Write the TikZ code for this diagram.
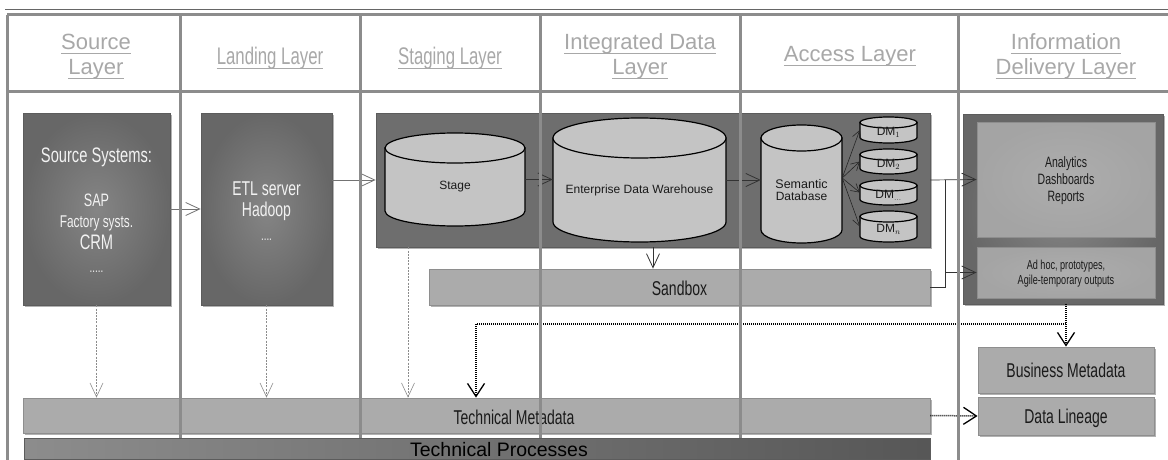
\documentclass[tikz,border=0pt]{standalone}
\usepackage{fontspec}
\setmainfont{Liberation Sans}
\newfontfamily\condfont[FakeStretch=0.7]{Liberation Sans}
\usetikzlibrary{arrows.meta,shadows}

\definecolor{sepgray}{HTML}{8C8C8C}
\definecolor{hdrgray}{HTML}{A8A8A8}
\definecolor{boxedge}{HTML}{5C5C5C}
\definecolor{boxdark}{HTML}{676767}
\definecolor{boxmid}{HTML}{858585}
\definecolor{grpfill}{HTML}{6E6E6E}
\definecolor{barfill}{HTML}{ABABAB}
\definecolor{baredge}{HTML}{8E8E8E}
\definecolor{innerfill}{HTML}{A4A4A4}
\definecolor{innerlit}{HTML}{ADADAD}
\definecolor{cylfill}{HTML}{C4C4C4}
\definecolor{wtext}{HTML}{F2F2F2}
\definecolor{dtext}{HTML}{1A1A1A}

\newcommand\fsz[1]{\fontsize{#1}{#1}\selectfont}
% underlined header word
\newcommand\hdul[1]{\setbox0\hbox{#1}\rlap{\raisebox{-4pt}{\rule{\wd0}{1.2pt}}}\box0}

% database cylinder: name, left x, right x, top y, bottom y, ellipse radius, label
\newcommand\dbcyl[7]{%
  \pgfmathsetmacro\cylcx{(#2+#3)/2}%
  \pgfmathsetmacro\cylrx{(#3-#2)/2}%
  \pgfmathsetmacro\cylyt{#4+#6}%
  \pgfmathsetmacro\cylyb{#5-#6}%
  \pgfmathsetmacro\cylw{#3-#2}%
  \pgfmathsetmacro\cylh{#5-#4}%
  \pgfmathsetmacro\cylcy{(#4+#5)/2}%
  \node[cylbox, minimum width=\cylw pt, minimum height=\cylh pt] (#1) at (\cylcx,\cylcy) {};
  \filldraw[cylbody] (#2,\cylyt) -- (#2,\cylyb)
     arc[start angle=180, end angle=0, x radius=\cylrx, y radius=#6] -- (#3,\cylyt) -- cycle;
  \filldraw[cylbody] (\cylcx,\cylyt) ellipse[x radius=\cylrx, y radius=#6];
  \node[cyltext] (#1-txt) at (\cylcx,\cylcy+#6/2) {#7};
}

\begin{document}
\begin{tikzpicture}[x=1pt, y=-1pt,
  boxsz/.style 2 args={minimum width=#1pt, minimum height=#2pt, inner sep=0pt},
  hdr/.style={text=hdrgray, anchor=base, font=\fsz{22}},
  hdrc/.style={text=hdrgray, anchor=base, font=\condfont\fsz{24}},
  softshadow/.style={drop shadow={shadow xshift=1.5pt, shadow yshift=-1.5pt, opacity=0.3, fill=black}},
  darkbox/.style={draw=boxedge, line width=0.8pt, inner color=boxmid, outer color=boxdark, softshadow},
  groupbox/.style={draw=boxedge, line width=0.8pt, fill=grpfill, softshadow},
  innerbox/.style={draw=baredge, line width=0.8pt, inner color=innerlit, outer color=innerfill},
  lightbar/.style={draw=baredge, line width=0.8pt, fill=barfill, softshadow},
  procbar/.style={draw=boxedge, line width=0.6pt, left color=black!45, middle color=black!62, right color=black!66},
  cylbox/.style={inner sep=0pt},
  cylbody/.style={draw=black, line width=1.2pt, fill=cylfill},
  cyltext/.style={text=dtext, font=\fsz{12}, align=center},
  darktxt/.style={text=wtext, anchor=base, font=\condfont},
  lighttxt/.style={text=dtext, anchor=base, font=\condfont},
  vtip/.style={-{Straight Barb[length=14pt,width=13pt,line width=0.8pt]}},
  conn/.style={draw=black!55, line width=0.7pt, vtip},
  conndk/.style={draw=black!80, line width=0.7pt, vtip},
  fan/.style={draw=black!85, line width=0.6pt, -{Straight Barb[length=8pt,width=9pt,line width=0.6pt]}},
  dropline/.style={draw=black!45, line width=0.6pt, dash pattern=on 2pt off 1.2pt, -{Straight Barb[length=14pt,width=13pt,line width=0.6pt]}},
  dotline/.style={draw=black, line width=1.5pt, dash pattern=on 1pt off 1pt, -{Straight Barb[length=13pt,width=17pt,line width=1.3pt]}},
  sep/.style={draw=sepgray, line width=3pt}]

\useasboundingbox (0,0) rectangle (1168,460);
\fill[white] (0,0) rectangle (1168,460);

% thin rule above the frame
\draw[draw=black!60, line width=1pt] (5,10) -- (1168,10);

% ---- header titles ----
\node[hdr] (h1a) at (96,50) {\hdul{Source}};
\node[hdr] (h1b) at (96,75) {\hdul{Layer}};
\node[hdrc] (h2) at (270,65) {\hdul{Landing Layer}};
\node[hdrc] (h3) at (450,65) {\hdul{Staging Layer}};
\node[hdr] (h4a) at (640,50) {\hdul{Integrated Data}};
\node[hdr] (h4b) at (640,75) {\hdul{Layer}};
\node[hdr] (h5) at (850,62) {\hdul{Access Layer}};
\node[hdr] (h6a) at (1066,50) {\hdul{Information}};
\node[hdr] (h6b) at (1066,75) {\hdul{Delivery Layer}};

% ---- source and landing systems ----
\node[darkbox, boxsz={147}{192}] (src) at (96.5,209) {};
\node[darktxt] (src1) at (96.5,162) {\fsz{21}Source Systems:};
\node[darktxt] (src2) at (96.5,206) {\fsz{18}SAP};
\node[darktxt] (src3) at (96.5,227) {\fsz{17}Factory systs.};
\node[darktxt] (src4) at (96.5,249) {\fsz{21}CRM};
\node[darktxt] (src5) at (96.5,272) {\fsz{14}.....};

\node[darkbox, boxsz={131}{192}] (etl) at (266.5,209) {};
\node[darktxt] (etl1) at (266.5,195) {\fsz{20}ETL server};
\node[darktxt] (etl2) at (266.5,216) {\fsz{20}Hadoop};
\node[darktxt] (etl3) at (266.5,240) {\fsz{14}....};

% ---- staging / integration / access group ----
\node[groupbox, boxsz={554}{134}] (grp) at (653,180) {};
\dbcyl{stage}{385}{525}{133}{226}{15}{Stage}
\dbcyl{edw}{553}{726}{118}{242}{20}{Enterprise Data Warehouse}
\dbcyl{sem}{761}{842}{125}{243}{13}{\fontsize{12.5}{16}\selectfont Semantic\\Database}
\dbcyl{dm1}{860}{917}{117}{143}{5.5}{DM$_{1}$}
\dbcyl{dm2}{860}{917}{149}{174}{5.5}{DM$_{2}$}
\dbcyl{dm3}{860}{917}{180}{205}{5.5}{DM$_{\dots}$}
\dbcyl{dm4}{860}{917}{211}{242}{5.5}{DM$_{n}$}

\node[lightbar, boxsz={501}{36}] (sbx) at (679.5,287) {};
\node[lighttxt] (sbxt) at (679.5,295) {\fsz{20}Sandbox};

% ---- information delivery ----
\node[darkbox, boxsz={200}{190}] (idl) at (1063,209) {};
\node[innerbox, boxsz={178}{115}] (ana) at (1066,179.5) {};
\node[lighttxt] (ana1) at (1066,167) {\fsz{15}Analytics};
\node[lighttxt] (ana2) at (1066,184) {\fsz{15}Dashboards};
\node[lighttxt] (ana3) at (1066,201) {\fsz{15}Reports};
\node[innerbox, boxsz={178}{51}] (adh) at (1066,272.5) {};
\node[lighttxt] (adh1) at (1066,269) {\fsz{13}Ad hoc, prototypes,};
\node[lighttxt] (adh2) at (1066,284.5) {\fsz{13}Agile-temporary outputs};

\node[lightbar, boxsz={176}{46}] (bmd) at (1066,370) {};
\node[lighttxt] (bmdt) at (1066,377) {\fsz{20}Business Metadata};
\node[lightbar, boxsz={176}{38}] (dln) at (1066,416) {};
\node[lighttxt] (dlnt) at (1066,423) {\fsz{20}Data Lineage};

% ---- technical metadata ----
\node[lightbar, boxsz={907}{35}] (tmd) at (476.5,415.5) {};
\node[lighttxt] (tmdt) at (514,424) {\fsz{20}Technical Metadata};

% ---- data flow ----
\draw[conn] (src.east) -- (etl.west);
\draw[conn] (etl.east |- grp.west) -- (grp.west);
\draw[conndk] (stage.east) -- (edw.west |- stage.east);
\draw[conndk] (edw.east) -- (sem.west |- edw.east);
\foreach \d in {dm1,dm2,dm3,dm4}
  \draw[fan] ([yshift=6pt]sem.east) -- (\d.west);
\draw[conndk] (grp.east) -- (ana.west);
\coordinate (jn) at (945,180);
\draw[draw=black!80, line width=0.7pt] (jn) -- (jn |- sbx.east) -- (sbx.east);
\draw[conndk] (jn |- adh.west) -- (adh.west);
\coordinate (sbxdrop) at (653,0);
\draw[conndk] (grp.south -| sbxdrop) -- (sbx.north -| sbxdrop);

% ---- metadata feeds ----
\draw[dropline] (src.south) -- (src.south |- tmd.north);
\draw[dropline] (etl.south) -- (etl.south |- tmd.north);
\coordinate (grpdrop) at (408,0);
\draw[dropline] (grp.south -| grpdrop) -- (tmd.north -| grpdrop);
\coordinate (mdturn) at (476,324);
\draw[dotline] (bmd.north |- idl.south) -- (bmd.north);
\draw[dotline] (bmd.north |- mdturn) -- (mdturn) -- (mdturn |- tmd.north);
\draw[dotline] (tmd.east) -- (dln.west);

% ---- frame and column separators ----
\draw[sep] (7,15) -- (1168,15);
\draw[sep] (7,15) -- (7,460);
\draw[sep] (7,92) -- (1168,92);
\foreach \cx in {180,360,540,740,958}
  \draw[sep] (\cx,15) -- (\cx,460);

% ---- technical processes ----
\node[procbar, boxsz={906}{21}] (tpr) at (477,448.5) {};
\node[text=black, anchor=base, font=\fsz{19.5}] (tprt) at (499,456) {Technical Processes};
\end{tikzpicture}
\end{document}
